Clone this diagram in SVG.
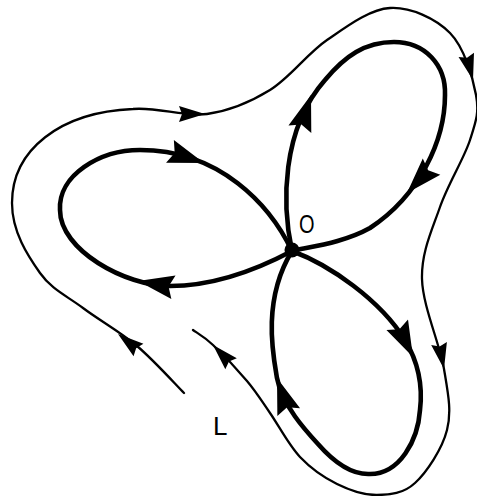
<svg xmlns="http://www.w3.org/2000/svg" width="477" height="496" viewBox="0 0 477 496">
<style>
.heavy{fill:none;stroke:#000;stroke-width:4.6;stroke-linejoin:round;stroke-linecap:round}
.thin{fill:none;stroke:#000;stroke-width:2.3;stroke-linecap:round}
.lbl{font-family:"Liberation Sans",Arial,sans-serif;fill:#000}
</style>
<defs>
<path id="ah" d="M0,0 L-36,-12 L-31,0 L-36,12 Z" fill="#000"/>
<path id="at" d="M0,0 L-26,-8 L-23,0 L-26,8 Z" fill="#000"/>
</defs>
<rect width="477" height="496" fill="#fff"/>
<g id="connectors">
<g id="petal-left">
<path class="heavy" d="M292,251 C270,205 220,150 140,150 C100,150 58,175 60,210 C60,250 125,286 170,286 C215,286 260,268 292,251"/>
<use href="#ah" transform="translate(204,163) rotate(19)"/>
<use href="#ah" transform="translate(138,281) rotate(190)"/>
</g>
<g id="petal-upper">
<path class="heavy" d="M292,251 C282,205 281,130 325,80 C345,56 365,42 394,42 C425,42 446,65 445,95 C445,140 420,195 370,228 C345,242 315,246 292,251"/>
<use href="#ah" transform="translate(311,95) rotate(-72)"/>
<use href="#ah" transform="translate(407,193) rotate(133)"/>
</g>
<g id="petal-lower">
<path class="heavy" d="M292,251 C330,265 380,300 405,340 C417,360 423,385 420,410 C418,440 400,474 370,474 C350,475 332,460 318,444 C306,431 282,405 277,378 C273,355 262,300 292,251"/>
<use href="#ah" transform="translate(413,357) rotate(64)"/>
<use href="#ah" transform="translate(277,378) rotate(251)"/>
</g>
<g id="orbit-L">
<path class="thin" d="M184,393 C176.2,385.2 153.8,360.2 137,346 C120.2,331.8 99.2,320.2 83,308 C66.8,295.8 51.8,289.7 40,273 C28,256 12,232 12,203 C12,150 60,112 133,109 C157.5,106.7 184.2,117.2 207,114 C229.8,110.8 250,102.3 270,90 C290,77.7 307,53.7 327,40 C347,26.3 369.5,9.2 390,8 C410.5,6.8 435.7,18.5 450,33 C464.3,47.5 472.7,77.2 476,95 C479.3,112.8 476,121.3 470,140 C464,158.7 448,183.8 440,207 C432,230.2 421.3,252 422,279 C422.7,306 439.8,343.8 444,369 C448.2,394.2 451.8,411 447,430 C442.2,449 426.7,472.2 415,483 C403.3,493.8 390,494.8 377,495 C364,495.2 349.8,490.3 337,484 C324.2,477.7 311.2,468.8 300,457 C288.8,445.2 278.8,425.7 270,413 C261.2,400.3 256.5,392.3 247,381 C237.5,369.7 222,353.5 213,345 C204,336.5 196.3,332.5 193,330"/>
<use href="#at" transform="translate(118,334) rotate(218)"/>
<use href="#at" transform="translate(205,114) rotate(0)"/>
<use href="#at" transform="translate(473,80) rotate(75)"/>
<use href="#at" transform="translate(444,369) rotate(79)"/>
<use href="#at" transform="translate(213,345) rotate(226)"/>
</g>
</g>
<g id="node-O">
<circle cx="292" cy="250" r="7.5" fill="#000"/>
<text class="lbl" font-size="25" transform="translate(299,233) scale(0.8,1)">O</text>
</g>
<g id="label-L">
<text class="lbl" font-size="26" x="213" y="435">L</text>
</g>
</svg>
